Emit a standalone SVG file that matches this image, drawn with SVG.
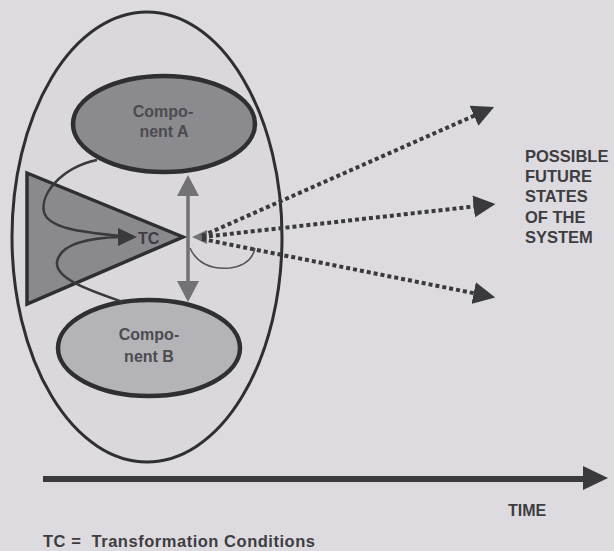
<svg xmlns="http://www.w3.org/2000/svg" width="614" height="551" viewBox="0 0 614 551">
  <style>
    .lbl { font-family: "Liberation Sans", Arial, sans-serif; font-weight: bold; }
    .comp { font-size: 16px; fill: #4c4b4f; text-anchor: middle; }
    .dark { fill: #3e3d41; }
    .dot { fill: none; stroke: #3a393d; stroke-width: 4; stroke-dasharray: 4 3; }
    .flow { fill: none; stroke: #3a393d; stroke-width: 2.5; }
  </style>
  <defs>
    <marker id="dotHead" viewBox="0 0 10 10" refX="2" refY="5" markerWidth="5.5" markerHeight="5.5" orient="auto" markerUnits="strokeWidth">
      <path d="M0,0 L10,5 L0,10 Z" fill="#3a393d"/>
    </marker>
  </defs>

  <rect width="614" height="551" fill="#dddbe0"/>

  <!-- system boundary -->
  <g id="system">
    <ellipse cx="147" cy="237" rx="135" ry="225" fill="#dad8dd" stroke="#2f2e32" stroke-width="3"/>
  </g>

  <!-- component A -->
  <g id="componentA">
    <ellipse cx="164" cy="124" rx="91" ry="48" fill="#8b8a8e" stroke="#2f2e32" stroke-width="4.5"/>
    <text class="lbl comp" x="163" y="117">Compo-</text>
    <text class="lbl comp" x="164" y="137">nent A</text>
  </g>

  <!-- component B -->
  <g id="componentB">
    <ellipse cx="149" cy="348" rx="91" ry="48" fill="#b4b3b7" stroke="#2f2e32" stroke-width="4.5"/>
    <text class="lbl comp" x="149" y="340">Compo-</text>
    <text class="lbl comp" x="149" y="362">nent B</text>
  </g>

  <!-- transformation conditions wedge -->
  <g id="tc">
    <path d="M27,173 L183,237 L27,304 Z" fill="#8a898d" stroke="#2f2e32" stroke-width="3.5" stroke-linejoin="miter"/>
  </g>

  <g id="connectors">
    <!-- influence curves from the components into TC -->
    <path class="flow" d="M97,160 C60,168 40,195 44,212 C48,228 80,232 120,236"/>
    <path class="flow" d="M123,302 C95,292 55,280 57,262 C60,245 85,238 120,237"/>
    <path d="M118,228 L137,237 L118,246 Z" fill="#3a393d"/>
    <text class="lbl dark" x="138" y="244" font-size="16">TC</text>

    <!-- vertical double arrow -->
    <line x1="188" y1="192" x2="188" y2="284" stroke="#727175" stroke-width="3.5"/>
    <path d="M177,196 L188,175 L199,196 Z" fill="#727175"/>
    <path d="M177,281 L188,302 L199,281 Z" fill="#727175"/>

    <!-- feedback loop -->
    <path d="M190,248 C196,262 210,270 230,268 C245,266 253,258 255,248" fill="none" stroke="#555458" stroke-width="1.5"/>
    <path d="M192,237 L207,230 L207,244 Z" fill="#727175"/>

    <!-- possible trajectories -->
    <path class="dot" d="M202,236 L478,114" marker-end="url(#dotHead)"/>
    <path class="dot" d="M202,237 L478,206" marker-end="url(#dotHead)"/>
    <path class="dot" d="M202,239 L478,294" marker-end="url(#dotHead)"/>

    <!-- time axis -->
    <line x1="43" y1="479" x2="586" y2="479" stroke="#3a393d" stroke-width="6"/>
    <path d="M583,466 L608,478 L583,490 Z" fill="#3a393d"/>
  </g>

  <g id="labels">
    <text class="lbl dark" font-size="16.5">
      <tspan x="525" y="162">POSSIBLE</tspan>
      <tspan x="525" y="182">FUTURE</tspan>
      <tspan x="525" y="202">STATES</tspan>
      <tspan x="525" y="223">OF THE</tspan>
      <tspan x="525" y="243">SYSTEM</tspan>
    </text>
    <text class="lbl dark" x="508" y="516" font-size="16">TIME</text>
    <text class="lbl dark" x="43" y="547" font-size="16.5" textLength="272" lengthAdjust="spacing" xml:space="preserve">TC =  Transformation Conditions</text>
  </g>
</svg>
